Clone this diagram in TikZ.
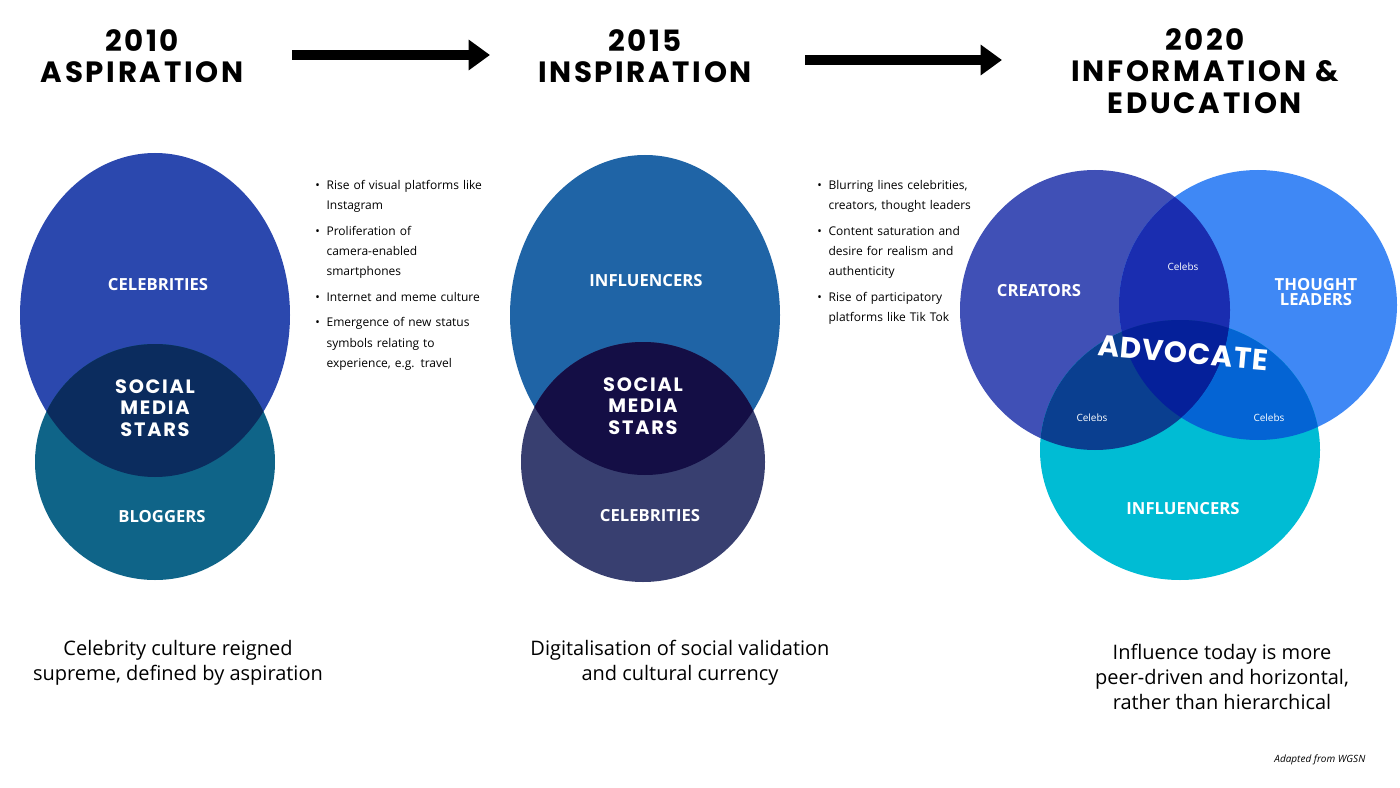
\documentclass[tikz,border=0pt]{standalone}
\usepackage{fontspec}
\setmainfont{Open Sans}
\newfontfamily\headfont[LetterSpace=9]{Poppins}
\newfontfamily\advfont[LetterSpace=3]{Poppins}
\usetikzlibrary{arrows.meta}
\definecolor{celebblue}{HTML}{2B48AE}
\definecolor{bloggerteal}{HTML}{0F6488}
\definecolor{starsdark}{HTML}{0B2C5E}
\definecolor{inflblue}{HTML}{1F64A6}
\definecolor{celebslate}{HTML}{383F70}
\definecolor{starsdeep}{HTML}{140E45}
\definecolor{creatorblue}{HTML}{4050B6}
\definecolor{thoughtblue}{HTML}{3F88F5}
\definecolor{inflcyan}{HTML}{00BCD4}
\definecolor{ctoverlap}{HTML}{1A2DB0}
\definecolor{cioverlap}{HTML}{0A3F90}
\definecolor{tioverlap}{HTML}{0464D4}
\definecolor{alloverlap}{HTML}{05209A}
\tikzset{
  heading/.style={font=\headfont\bfseries\fontsize{22}{23.5}\selectfont, align=center},
  circlabel/.style={text=white, font=\bfseries\fontsize{12.5}{13}\selectfont, align=center},
  starlabel/.style={text=white, font=\headfont\bfseries\fontsize{14.5}{16}\selectfont, align=center},
  smalllabel/.style={text=white, font=\fontsize{7.5}{8}\selectfont},
  caption/.style={font=\fontsize{15}{19}\selectfont, align=center},
  bullets/.style={font=\fontsize{9}{15.2}\selectfont, text width=143pt, anchor=north west, inner sep=0pt},
  brush/.style={line width=7pt, -{Triangle[length=16pt, width=22pt]}}
}
\newcommand{\bitem}[1]{\item[\textbullet] #1}
\begin{document}
\begin{tikzpicture}[x=0.75pt, y=-0.75pt]
\useasboundingbox (0,0) rectangle (1400,788);
% headings
\node[heading] (h2010) at (142,56) {2010\\ASPIRATION};
\node[heading] (h2015) at (645,56) {2015\\INSPIRATION};
\node[heading] (h2020) at (1205,71) {2020\\INFORMATION \&\\EDUCATION};
% arrows
\coordinate (a1s) at (292,55); \coordinate (a1e) at (490,55);
\coordinate (a2s) at (805,60); \coordinate (a2e) at (1002,60);
\draw[brush] (a1s) -- (a1e);
\draw[brush] (a2s) -- (a2e);
% panel 2010
\fill[celebblue] (155,315) ellipse (135 and 162);
\fill[bloggerteal] (155,462) ellipse (120 and 118);
\begin{scope}
  \clip (155,315) ellipse (135 and 162);
  \fill[starsdark] (155,462) ellipse (120 and 118);
\end{scope}
\node[circlabel] (celeb1) at (158,285) {CELEBRITIES};
\node[circlabel] (blog1) at (162,517) {BLOGGERS};
\node[starlabel] (stars1) at (155,408) {SOCIAL\\MEDIA\\STARS};
\node[bullets] (list1) at (293,158) {%
  \begin{itemize}\setlength{\itemsep}{0pt}\setlength{\parsep}{0pt}\setlength{\leftmargin}{11pt}\setlength{\labelsep}{5pt}\setlength{\topsep}{0pt}\setlength{\partopsep}{0pt}
  \bitem{Rise of visual platforms like Instagram}
  \bitem{Proliferation of camera-enabled smartphones}
  \bitem{Internet and meme culture}
  \bitem{Emergence of new status symbols relating to experience, e.g. travel}
  \end{itemize}};
% panel 2015
\fill[inflblue] (645,315) ellipse (135 and 160);
\fill[celebslate] (643,462) ellipse (122 and 120);
\begin{scope}
  \clip (645,315) ellipse (135 and 160);
  \fill[starsdeep] (643,462) ellipse (122 and 120);
\end{scope}
\node[circlabel] (infl2) at (646,281) {INFLUENCERS};
\node[circlabel] (celeb2) at (650,516) {CELEBRITIES};
\node[starlabel] (stars2) at (643,406) {SOCIAL\\MEDIA\\STARS};
\node[bullets] (list2) at (795,158) {%
  \begin{itemize}\setlength{\itemsep}{0pt}\setlength{\parsep}{0pt}\setlength{\leftmargin}{11pt}\setlength{\labelsep}{5pt}\setlength{\topsep}{0pt}\setlength{\partopsep}{0pt}
  \bitem{Blurring lines celebrities, creators, thought leaders}
  \bitem{Content saturation and desire for realism and authenticity}
  \bitem{Rise of participatory platforms like Tik Tok}
  \end{itemize}};
% panel 2020
\fill[creatorblue] (1095,310) ellipse (135 and 140);
\fill[thoughtblue] (1258,305) ellipse (139 and 135);
\fill[inflcyan] (1180,450) ellipse (140 and 130);
\begin{scope}
  \clip (1095,310) ellipse (135 and 140);
  \fill[ctoverlap] (1258,305) ellipse (139 and 135);
  \fill[cioverlap] (1180,450) ellipse (140 and 130);
  \clip (1258,305) ellipse (139 and 135);
  \fill[alloverlap] (1180,450) ellipse (140 and 130);
\end{scope}
\begin{scope}[even odd rule]
  \clip (1258,305) ellipse (139 and 135);
  \clip (1095,310) ellipse (135 and 140) (0,0) rectangle (1400,788);
  \fill[tioverlap] (1180,450) ellipse (140 and 130);
\end{scope}
\node[circlabel] (creators) at (1039,291) {CREATORS};
\node[circlabel, font=\bfseries\fontsize{12.5}{11}\selectfont] (thought) at (1316,292) {THOUGHT\\LEADERS};
\node[circlabel] (infl3) at (1183,509) {INFLUENCERS};
\node[smalllabel] (celebsA) at (1183,267) {Celebs};
\node[smalllabel] (celebsB) at (1092,418) {Celebs};
\node[smalllabel] (celebsC) at (1269,418) {Celebs};
\node[rotate=-5, text=white, font=\advfont\bfseries\fontsize{22}{22}\selectfont] (advocate) at (1183,353) {ADVOCATE};
% captions
\node[caption] (cap1) at (178,663) {Celebrity culture reigned\\supreme, defined by aspiration};
\node[caption] (cap2) at (680,663) {Digitalisation of social validation\\and cultural currency};
\node[caption] (cap3) at (1222,677) {Influence today is more\\peer-driven and horizontal,\\rather than hierarchical};
\node[font=\itshape\fontsize{7.5}{8}\selectfont, anchor=east] (source) at (1370,760) {Adapted from WGSN};
\end{tikzpicture}
\end{document}
